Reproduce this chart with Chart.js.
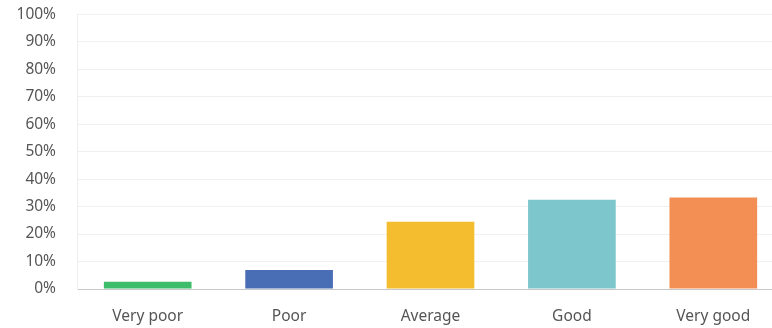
<!DOCTYPE html>
<html><head><meta charset="utf-8">
<script src="https://cdn.jsdelivr.net/npm/chart.js@4"></script>
<style>
html,body{margin:0;padding:0;overflow:hidden;background:#fff;}
#wrap{position:relative;width:784px;height:344px;margin-top:-16px;}
</style></head>
<body><div id="wrap"><canvas id="c"></canvas></div>
<script>
const categories = ["Very poor","Poor","Average","Good","Very good"];
const values = [2.6, 6.9, 24.5, 32.5, 33.3];
const barColors = ["#3dbd6b","#4a6eb5","#f3bd2f","#7dc6cc","#f38f55"];
const yTicks = [0,10,20,30,40,50,60,70,80,90,100];

new Chart(document.getElementById('c'), {
  type: 'bar',
  data: { labels: categories, datasets: [{ data: values, backgroundColor: barColors, borderWidth: 0,
    categoryPercentage: 1.0, barPercentage: 0.62 }] },
  options: {
    responsive: true, maintainAspectRatio: false, animation: false,
    layout: { padding: 0 },
    plugins: { legend: { display: false }, tooltip: { enabled: false } },
    scales: {
      x: {
        grid: { display: false, drawTicks: false },
        border: { color: '#c8c8c8', width: 1 },
        ticks: { color: '#555', font: { family: 'Noto Sans', size: 15.5 }, padding: 18 },
        afterFit: s => { s.height = 39; }
      },
      y: {
        min: 0, max: 100,
        afterBuildTicks: s => { s.ticks = yTicks.map(v => ({ value: v })); },
        grid: { color: '#f0f0f0', drawTicks: false },
        border: { color: '#eeeeee', width: 1 },
        ticks: { color: '#555', font: { family: 'Noto Sans', size: 15.5 }, padding: 21, callback: v => v + '%' },
        afterFit: s => { s.width = 77; }
      }
    }
  }
});
</script></body></html>
